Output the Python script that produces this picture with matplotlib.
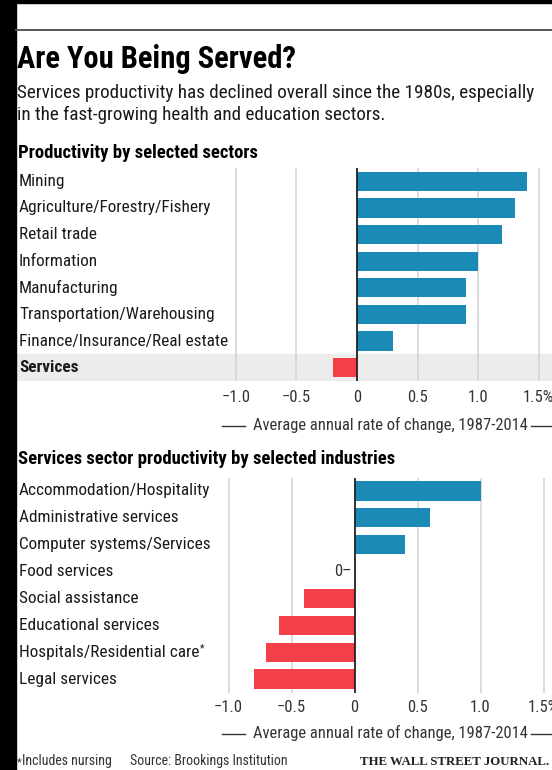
import matplotlib
matplotlib.use("Agg")
import matplotlib.pyplot as plt
import matplotlib.transforms as mtransforms
from matplotlib import font_manager
from matplotlib.lines import Line2D
from matplotlib.patches import Rectangle


def pick_font(prefs):
    have = {f.name for f in font_manager.fontManager.ttflist}
    for p in prefs:
        if p in have:
            return p
    return "DejaVu Sans"


SANS = pick_font(["Roboto Condensed", "Archivo Narrow", "PT Sans Narrow",
                  "Fira Sans Condensed", "IBM Plex Sans Condensed",
                  "Liberation Sans Narrow", "Open Sans Condensed", "Roboto"])
SERIF = pick_font(["Liberation Serif", "DejaVu Serif"])
plt.rcParams["font.family"] = [SANS, "DejaVu Sans"]

# data
sectors = [
    "Mining",
    "Agriculture/Forestry/Fishery",
    "Retail trade",
    "Information",
    "Manufacturing",
    "Transportation/Warehousing",
    "Finance/Insurance/Real estate",
    "Services",
]
sector_values = [1.4, 1.3, 1.2, 1.0, 0.9, 0.9, 0.3, -0.2]

industries = [
    "Accommodation/Hospitality",
    "Administrative services",
    "Computer systems/Services",
    "Food services",
    "Social assistance",
    "Educational services",
    "Hospitals/Residential care",
    "Legal services",
]
industry_values = [1.0, 0.6, 0.4, 0.0, -0.4, -0.6, -0.7, -0.8]

tick_values = [-1.0, -0.5, 0, 0.5, 1.0, 1.5]
tick_labels = ["\u22121.0", "\u22120.5", "0", "0.5", "1.0", "1.5%"]

W, H = 552, 770
BLUE = "#1b8ab6"
RED = "#f53f48"
GRID = "#d2d2d2"
TXT = "#1a1a1a"


def fx(px):
    return px / W


def fy(py):
    return 1 - py / H


fig = plt.figure(figsize=(W / 100, H / 100), dpi=100)
fig.patch.set_facecolor("white")

# black scan borders
fig.patches.append(Rectangle((0, 0), fx(16), 1, transform=fig.transFigure,
                             color="black", zorder=0))
fig.patches.append(Rectangle((0, fy(3)), 1, 1 - fy(3), transform=fig.transFigure,
                             color="black", zorder=0))
fig.add_artist(Line2D([fx(16), 1], [fy(30), fy(30)], color="#555555", lw=1.4))

fig.text(fx(17), fy(68), "Are You Being Served?", fontsize=22, fontweight="bold",
         color="black", va="baseline")
fig.text(fx(17), fy(98), "Services productivity has declined overall since the 1980s, especially",
         fontsize=13.8, color=TXT, va="baseline")
fig.text(fx(17), fy(120), "in the fast-growing health and education sectors.",
         fontsize=13.8, color=TXT, va="baseline")


def draw_panel(top, bottom, zero, unit, names, values, tick_y, label_y, highlight=None):
    ax = fig.add_axes([fx(16), fy(bottom), fx(552) - fx(16), (bottom - top) / H])
    ax.set_xlim((16 - zero) / unit, (552 - zero) / unit)
    ax.set_ylim(len(names) - 0.5, -0.5)
    ax.axis("off")

    if highlight is not None:
        ax.axhspan(highlight - 0.5, highlight + 0.5, color="#ececec", zorder=0)

    for t in tick_values:
        if t != 0:
            ax.axvline(t, color=GRID, lw=1.1, zorder=1)

    colors = [BLUE if v > 0 else RED for v in values]
    ax.barh(range(len(names)), values, height=0.72, color=colors, zorder=3)
    ax.axvline(0, color="#222222", lw=1.3, zorder=4)

    lab_tr = mtransforms.blended_transform_factory(fig.transFigure, ax.transData)
    texts = []
    for i, name in enumerate(names):
        t = ax.text(fx(19), i, name, transform=lab_tr, fontsize=12.4, color=TXT,
                    va="center", ha="left",
                    fontweight="bold" if i == highlight else "normal")
        texts.append(t)

    tick_tr = mtransforms.blended_transform_factory(ax.transData, fig.transFigure)
    for t, lab in zip(tick_values, tick_labels):
        ax.text(t, fy(tick_y), lab, transform=tick_tr, fontsize=12, color="#333333",
                ha="center", va="center", clip_on=False)

    fig.text(fx(390), fy(label_y), "Average annual rate of change, 1987-2014",
             fontsize=11.9, color="#333333", ha="center", va="center")
    fig.add_artist(Line2D([fx(222), fx(245)], [fy(label_y + 1)] * 2, color="#333333", lw=1))
    fig.add_artist(Line2D([fx(531), fx(552)], [fy(label_y + 1)] * 2, color="#333333", lw=1))
    return ax, texts


fig.text(fx(18), fy(158), "Productivity by selected sectors", fontsize=13.4,
         fontweight="bold", color="black", va="baseline")
draw_panel(168, 381, 357, 121.2, sectors, sector_values, 398, 425, highlight=7)

fig.text(fx(18), fy(464), "Services sector productivity by selected industries", fontsize=13.4,
         fontweight="bold", color="black", va="baseline")
ax2, texts2 = draw_panel(477.5, 692.5, 354.5, 126, industries, industry_values, 707, 733)
ax2.text(-0.02, 3, "0\u2013", fontsize=12, color="#333333", ha="right", va="center")
ax2.annotate("*", xy=(1.0, 0.75), xycoords=texts2[6], fontsize=7.5, color=TXT,
             ha="left", va="center")

fig.text(fx(17), fy(765), "*", fontsize=8, color="#333333", va="baseline")
fig.text(fx(22), fy(765), "Includes nursing", fontsize=10, color="#333333",
         va="baseline")
fig.text(fx(130), fy(765), "Source: Brookings Institution", fontsize=10, color="#333333",
         va="baseline")
fig.text(fx(549), fy(765), "THE WALL STREET JOURNAL.", fontsize=9.3, fontweight="bold",
         family=[SERIF, "DejaVu Serif"], color="#222222",
         ha="right", va="baseline")

fig.savefig("out.png", dpi=100, facecolor=fig.get_facecolor())
